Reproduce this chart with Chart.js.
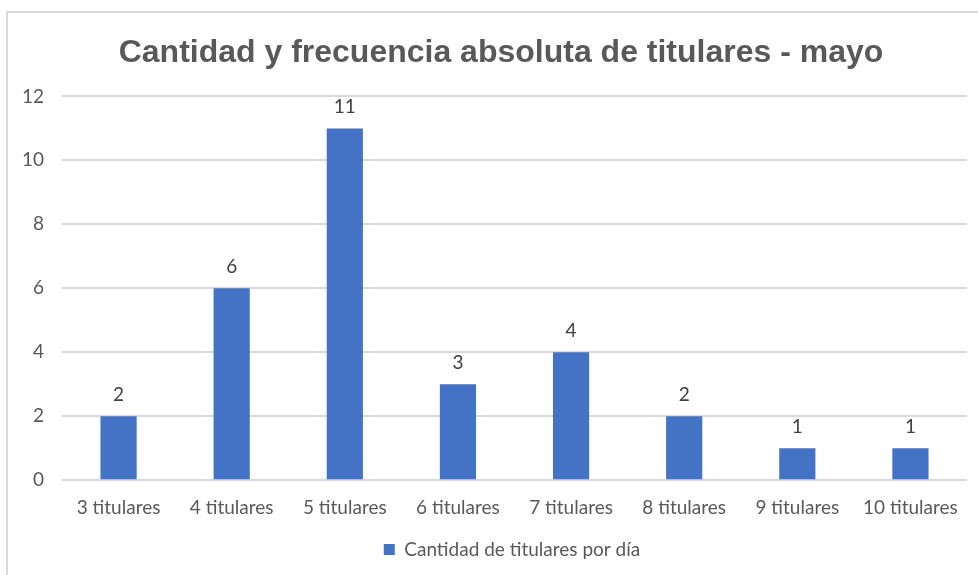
<!DOCTYPE html>
<html>
<head>
<meta charset="utf-8">
<script src="https://cdn.jsdelivr.net/npm/chart.js@4.4.0/dist/chart.umd.min.js"></script>
<style>
    html, body { margin: 0; padding: 0; overflow: hidden; background: #ffffff; }
    #marco {
        position: absolute;
        left: 6px;
        top: 11px;
        width: 990px;
        height: 580px;
        border-left: 2px solid #d9d9d9;
        border-top: 2px solid #d9d9d9;
    }
    #grafica { display: block; }
</style>
</head>
<body>
<div id="marco">
    <canvas id="grafica" width="988" height="559"></canvas>
</div>
<script>
// Datos de la gráfica
const categorias = ['3 titulares', '4 titulares', '5 titulares', '6 titulares', '7 titulares', '8 titulares', '9 titulares', '10 titulares'];
const cantidades = [2, 6, 11, 3, 4, 2, 1, 1];
const ticksY = [0, 2, 4, 6, 8, 10, 12];

const colorBarra = '#4472C4';
const colorTexto = '#595959';
const fuente = 'Lato, "Open Sans", sans-serif';

// Plugin: ajustes de posición y valores encima de cada barra
const etiquetasValor = {
    id: 'etiquetasValor',
    afterLayout(chart) {
        // ensanchar la zona de recorte del eje Y para que no corte los números
        chart.scales.y.left = 0;
        // la leyenda del original está centrada sobre el área de la gráfica
        if (chart.legend) {
            chart.legend.left += 22;
        }
    },
    afterDatasetsDraw(chart) {
        const ctx = chart.ctx;
        ctx.save();
        ctx.font = '19px ' + fuente;
        ctx.fillStyle = '#404040';
        ctx.textAlign = 'center';
        ctx.textBaseline = 'bottom';
        chart.getDatasetMeta(0).data.forEach((barra, i) => {
            ctx.fillText(cantidades[i], barra.x, barra.y - 12);
        });
        ctx.restore();
    }
};

const ctx = document.getElementById('grafica').getContext('2d');
new Chart(ctx, {
    type: 'bar',
    data: {
        labels: categorias,
        datasets: [{
            label: 'Cantidad de titulares por día',
            data: cantidades,
            backgroundColor: colorBarra,
            borderWidth: 0,
            barPercentage: 0.32,
            categoryPercentage: 1
        }]
    },
    options: {
        responsive: false,
        animation: false,
        layout: {
            padding: { left: 27, right: 29, top: 8, bottom: 3 }
        },
        plugins: {
            title: {
                display: true,
                text: 'Cantidad y frecuencia absoluta de titulares - mayo',
                color: colorTexto,
                font: { family: '"Liberation Sans", Arial, sans-serif', size: 32, weight: 'bold' },
                padding: { top: 13, bottom: 24 }
            },
            legend: {
                position: 'bottom',
                labels: {
                    color: colorTexto,
                    font: { family: fuente, size: 19 },
                    boxWidth: 11,
                    boxHeight: 11,
                    padding: 13
                }
            },
            tooltip: { enabled: false }
        },
        scales: {
            x: {
                grid: { display: false },
                border: { display: false },
                ticks: {
                    color: colorTexto,
                    font: { family: fuente, size: 19 },
                    padding: 8,
                    maxRotation: 0,
                    autoSkip: false
                }
            },
            y: {
                min: 0,
                max: 12,
                afterBuildTicks: axis => {
                    axis.ticks = ticksY.map(v => ({ value: v }));
                },
                afterFit: axis => {
                    axis.width = 27; // ancho fijo para que el título quede centrado como en el original
                },
                grid: { color: '#d9d9d9', lineWidth: 2, drawTicks: false },
                border: { display: false },
                ticks: {
                    color: colorTexto,
                    font: { family: fuente, size: 19 },
                    padding: 18
                }
            }
        }
    },
    plugins: [etiquetasValor]
});
</script>
</body>
</html>
